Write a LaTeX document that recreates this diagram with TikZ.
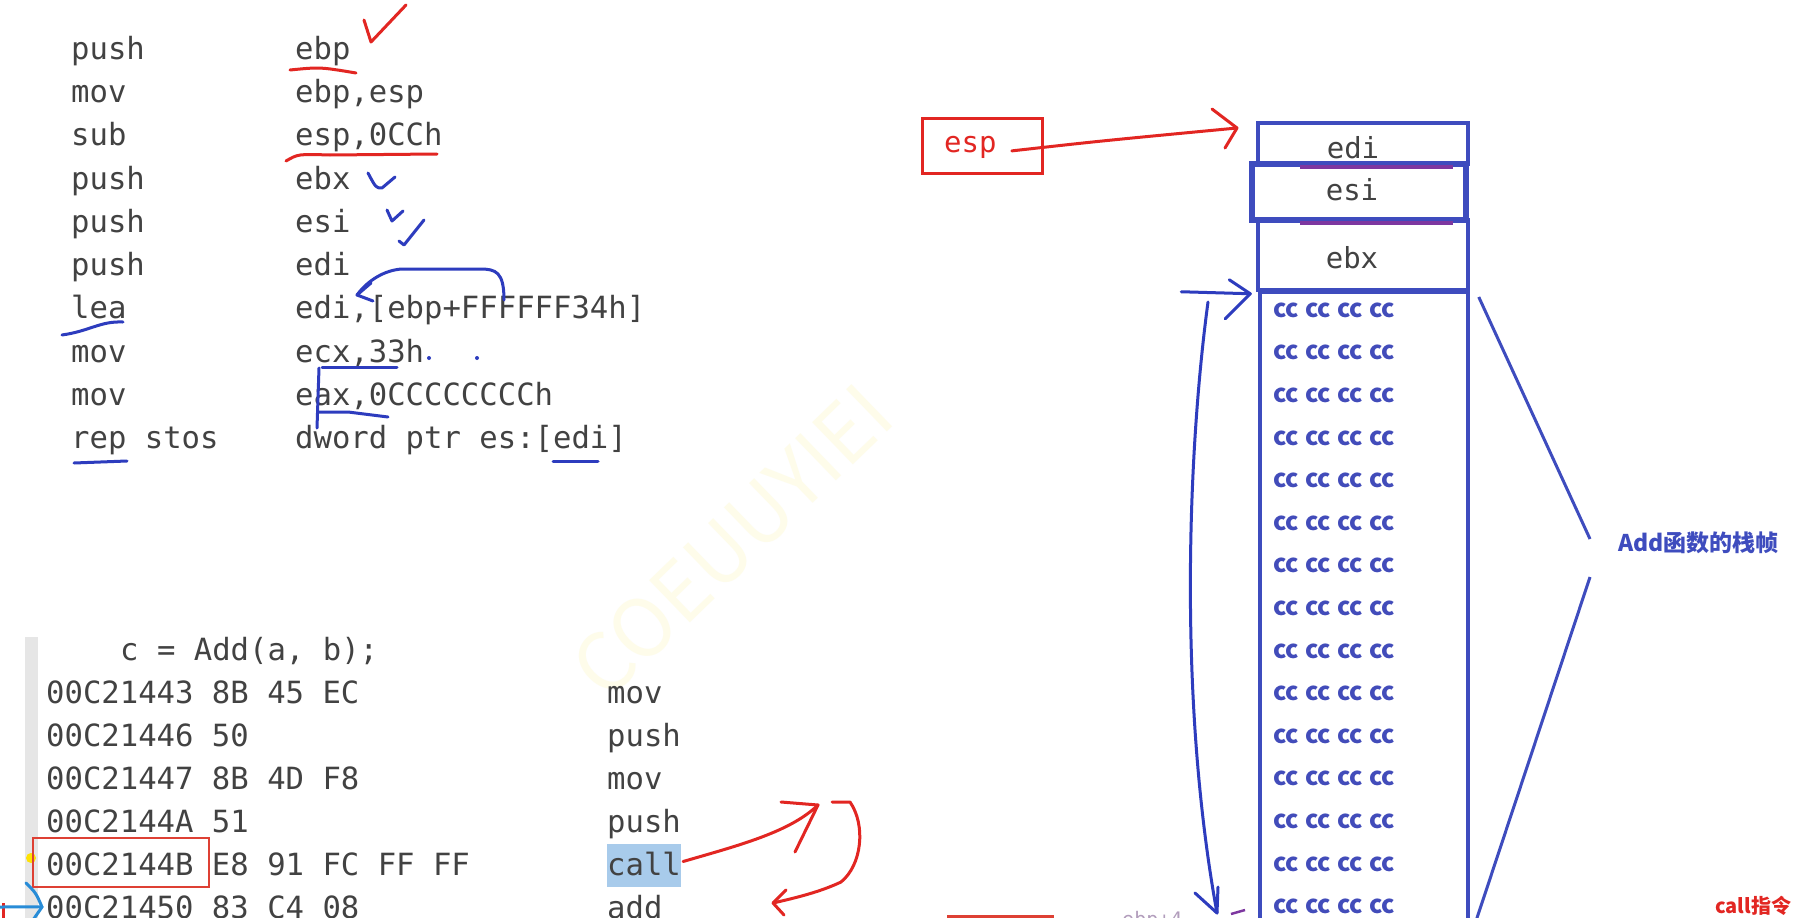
\documentclass[tikz,border=0pt]{standalone}
\usepackage{fontspec}
\setmonofont{DejaVu Sans Mono}
\newfontfamily\cjk{Noto Sans CJK SC}
\usepackage{tikz}
\usetikzlibrary{positioning,arrows.meta,calc}
\usepackage{xcolor}

\definecolor{codegray}{RGB}{66,66,66}
\definecolor{penblue}{RGB}{45,60,190}
\definecolor{stackblue}{RGB}{62,76,190}
\definecolor{ccblue}{RGB}{66,76,186}
\definecolor{penred}{RGB}{226,38,34}
\definecolor{boxred}{RGB}{222,64,52}
\definecolor{penpurple}{RGB}{125,55,160}
\definecolor{callhl}{RGB}{168,203,235}
\definecolor{lightblue}{RGB}{40,140,215}
\definecolor{bargray}{RGB}{230,230,230}
\definecolor{wmyellow}{RGB}{254,252,234}

\newcommand{\codefont}{\ttfamily\fontsize{30.6pt}{36pt}\selectfont}
\newcommand{\ccline}{cc\hspace{6pt}cc\hspace{6pt}cc\hspace{6pt}cc}

\begin{document}
\begin{tikzpicture}[
  x=1pt, y=-1pt,
  font=\codefont,
  asm/.style={anchor=base west, inner sep=0pt, text=codegray},
  pen/.style={penblue, line width=3pt, line cap=round, line join=round},
  redpen/.style={penred, line width=3pt, line cap=round, line join=round},
  stackcell/.style={draw=stackblue, line width=3.5pt, minimum width=210pt, inner sep=0pt},
  slot/.style={anchor=base, inner sep=0pt, text=codegray, font=\ttfamily\fontsize{29pt}{34pt}\selectfont},
  ccrow/.style={anchor=base west, inner sep=0pt, text=ccblue, font=\cjk\bfseries\fontsize{25pt}{28pt}\selectfont},
]
  % Canvas
  \useasboundingbox (0,0) rectangle (1807,918);
  \fill[white] (0,0) rectangle (1807,918);
  \clip (0,0) rectangle (1807,918);

  % Watermark
  \node[rotate=44, text=wmyellow, font=\cjk\fontsize{80pt}{80pt}\selectfont] (wm) at (732,541) {COEUUYIEI};

  % Prologue of Add
  \foreach \op/\arg [count=\i] in {push/ebp, mov/{ebp,esp}, sub/{esp,0CCh}, push/ebx, push/esi,
      push/edi, lea/{edi,[ebp+FFFFFF34h]}, mov/{ecx,33h}, mov/{eax,0CCCCCCCCh},
      rep stos/{dword ptr es:[edi]}} {
    \node[asm] (op\i) at (71, {16+43.25*\i}) {\op};
    \node[asm] (arg\i) at (295, {16+43.25*\i}) {\arg};
  }

  % Pen marks on the prologue
  \draw[redpen] (364,20) -- (371,42) -- (406,5);
  \draw[redpen] (290,70) .. controls (320,67) .. (356,73);
  \draw[redpen] (286,161) .. controls (298,154) .. (330,155) -- (437,154);
  \draw[pen] (368,173) .. controls (376,188) .. (382,188) -- (395,177);
  \draw[pen] (387,210) -- (392,221) -- (403,211);
  \draw[pen] (424,220) -- (404,245) -- (399,241);
  \coordinate (leatip) at (357,295);
  \draw[pen] (504,300) .. controls (504,272) and (496,269) .. (480,269) -- (402,269)
    .. controls (385,270) and (368,280) .. (leatip);
  \draw[pen] ($(leatip)+(14,-12)$) -- (leatip) -- ($(leatip)+(16,6)$);
  \draw[pen] (62,335) .. controls (90,331) and (100,321) .. (123,322);
  \draw[pen] (397,367) -- (322,367);
  \draw[pen] (319,368) -- (317,428);
  \draw[pen] (318,412) -- (348,412) -- (388,417);
  \fill[penblue] (429,358) circle (2) (477,358) circle (2);
  \draw[pen] (74,463) -- (127,461);
  \draw[pen] (553,461) -- (598,461);

  % Caller side
  \fill[bargray] (25,637) rectangle (38,918);
  \fill[yellow!85!orange] (31,858) circle (5);
  \fill[callhl] (607,844) rectangle (681,887);
  \node[asm] (callsite) at (120,660) {c = Add(a, b);};
  \foreach \addr/\bytes/\mn [count=\i] in {00C21443/{8B 45 EC}/mov, 00C21446/50/push,
      00C21447/{8B 4D F8}/mov, 00C2144A/51/push, 00C2144B/{E8 91 FC FF FF}/call,
      00C21450/{83 C4 08}/add} {
    \node[asm] (addr\i) at (46, {660+43*\i}) {\addr\ \bytes};
    \node[asm] (mn\i) at (607, {660+43*\i}) {\mn};
  }
  \draw[boxred, line width=2.5pt] (33,838) rectangle (209,887);
  \draw[penred, line width=3pt] (3,903) -- (3,920);
  \draw[lightblue, line width=3pt, line cap=round] (0,907) -- ($(addr6.west)+(-4,0)$);
  \draw[lightblue, line width=3pt, line cap=round] (26,883) .. controls (36,893) .. (42,907) -- (33,920);

  % call jumps away and comes back
  \coordinate (calltip) at (818,805);
  \draw[redpen] ($(mn5.east)+(2,-2)$) .. controls (740,845) and (790,832) .. (calltip);
  \draw[redpen] ($(calltip)+(-37,-3)$) -- (calltip) -- ($(calltip)+(-23,47)$);
  \coordinate (rettip) at (773,903);
  \draw[redpen] (832,802) -- (850,802) .. controls (866,825) and (862,865) .. (841,882)
    .. controls (820,892) and (795,898) .. (rettip);
  \draw[redpen] ($(rettip)+(13,-13)$) -- (rettip) -- ($(rettip)+(11,12)$);

  % Stack frame
  \node[stackcell, minimum width=208pt, minimum height=700pt, anchor=north] (ccarea) at (1364,290) {};
  \node[stackcell, minimum height=41pt] (edi) at (1363,143.5) {};
  \node[stackcell, minimum height=70pt] (ebx) at (1363,255) {};
  \node[stackcell, line width=5.5pt, minimum width=214pt, minimum height=56pt] (esi) at (1359,192) {};
  \draw[penpurple, line width=4pt] (1300,167) -- (1453,167);
  \draw[penpurple, line width=4pt] (1300,223) -- (1453,223);
  \node[slot] (editxt) at (1353,158) {edi};
  \node[slot] (esitxt) at (1352,200) {esi};
  \node[slot] (ebxtxt) at (1352,268) {ebx};
  \foreach \r in {0,...,14} {
    \node[ccrow] (cc\r) at (1273, {317.2+42.6*\r}) {\ccline};
  }

  % esp points at the top
  \node[draw=penred, line width=3pt, minimum width=120pt, minimum height=55pt, inner sep=0pt] (espbox) at (982,145.5) {};
  \node[anchor=base west, inner sep=0pt, text=penred, font=\ttfamily\fontsize{29pt}{34pt}\selectfont] (esp) at (944,152) {esp};
  \coordinate (esptip) at (1237,128);
  \draw[redpen] ($(esp.east)+(15,4)$) .. controls (1100,141) .. (esptip);
  \draw[redpen] ($(esptip)+(-25,-19)$) -- (esptip) -- ($(esptip)+(-12,20)$);

  % ebp marks the bottom of the pushed registers
  \coordinate (ccptr) at ($(ebx.south west)+(-6,2)$);
  \draw[pen] ($(ccptr)+(-69,-2)$) -- (ccptr);
  \draw[pen] ($(ccptr)+(-21,-14)$) -- (ccptr) -- ($(ccptr)+(-25,25)$);
  \coordinate (downtip) at (1217,913);
  \draw[pen] (1208,302) .. controls (1188,450) and (1178,700) .. (downtip);
  \draw[pen] ($(downtip)+(-22,-20)$) -- (downtip) -- ($(downtip)+(1,-26)$);
  \draw[penpurple, line width=2.5pt] (1231,914) -- (1245,910);
  \node[anchor=base west, inner sep=0pt, text=penpurple!50!gray!60, font=\ttfamily\fontsize{20pt}{24pt}\selectfont] (ebpoff) at (1122,926) {ebp+4};

  % Frame brace
  \node[anchor=west, inner sep=0pt, text=stackblue, font=\cjk\bfseries\fontsize{23pt}{26pt}\selectfont] (frame) at (1618,543) {Add函数的栈帧};
  \coordinate (brtop) at ($(ccarea.north east)+(9,7)$);
  \coordinate (brup) at ($(frame.west)+(-28,-4)$);
  \coordinate (brlow) at ($(frame.west)+(-28,34)$);
  \coordinate (brbot) at (1473,930);
  \draw[stackblue, line width=3pt] (brtop) -- (brup);
  \draw[stackblue, line width=3pt] (brlow) -- (brbot);

  % Cut off at the lower edge
  \draw[boxred, line width=3pt] (948,916) rectangle (1052,940);
  \node[anchor=base west, inner sep=0pt, text=penred, font=\cjk\bfseries\fontsize{20pt}{24pt}\selectfont] (calllbl) at (1715,913) {call指令};
\end{tikzpicture}
\end{document}
